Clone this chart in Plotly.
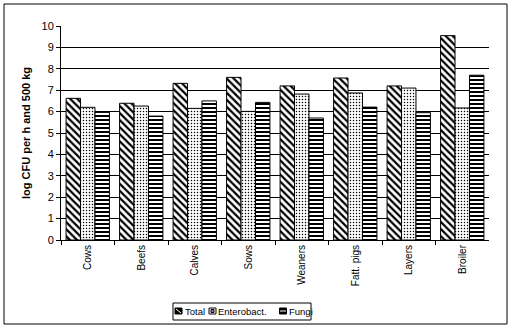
import plotly.graph_objects as go

categories = ["Cows", "Beefs", "Calves", "Sows", "Weaners", "Fatt. pigs", "Layers", "Broiler"]
total = [6.62, 6.39, 7.32, 7.6, 7.2, 7.57, 7.2, 9.55]
enterobact = [6.2, 6.26, 6.15, 6.01, 6.82, 6.87, 7.1, 6.17]
fungi = [5.97, 5.79, 6.5, 6.43, 5.7, 6.21, 5.95, 7.7]
yticks = list(range(0, 11))
series_names = ["Total", "Enterobact.", "Fungi"]

FONT = "Arial, Liberation Sans, sans-serif"
W, H = 514, 331


def px(x):
    return x / W


def py(y):
    return 1 - y / H


fig = go.Figure()
patterns = [
    dict(shape="\\", size=5, solidity=0.45),
    dict(shape=".", size=3, solidity=0.2),
    dict(shape="-", size=4, solidity=0.5),
]
for name, vals, pat in zip(series_names, [total, enterobact, fungi], patterns):
    fig.add_trace(go.Bar(
        x=categories, y=vals, name=name, showlegend=False,
        marker=dict(color="white", line=dict(color="black", width=1),
                    pattern=dict(fgcolor="black", bgcolor="white", fillmode="replace", **pat)),
    ))

shapes = [
    # outer frame
    dict(type="rect", xref="paper", yref="paper", x0=px(4), x1=px(507), y0=py(324), y1=py(4),
         line=dict(color="black", width=1), fillcolor="rgba(0,0,0,0)", layer="below"),
    # legend box
    dict(type="rect", xref="paper", yref="paper", x0=px(173), x1=px(311), y0=py(320), y1=py(303),
         line=dict(color="black", width=1), fillcolor="white"),
    # Total key
    dict(type="rect", xref="paper", yref="paper", x0=px(175), x1=px(182), y0=py(314), y1=py(308),
         line=dict(color="black", width=1), fillcolor="black"),
    dict(type="line", xref="paper", yref="paper", x0=px(176), x1=px(181), y0=py(309), y1=py(313),
         line=dict(color="white", width=1)),
    # Enterobact key
    dict(type="rect", xref="paper", yref="paper", x0=px(209), x1=px(216), y0=py(314), y1=py(308),
         line=dict(color="black", width=1), fillcolor="white"),
    dict(type="rect", xref="paper", yref="paper", x0=px(211), x1=px(214), y0=py(312.5), y1=py(309.5),
         line=dict(color="black", width=1), fillcolor="#888"),
    # Fungi key
    dict(type="rect", xref="paper", yref="paper", x0=px(279.5), x1=px(286.5), y0=py(314), y1=py(308),
         line=dict(color="black", width=1), fillcolor="black"),
    dict(type="line", xref="paper", yref="paper", x0=px(280), x1=px(286), y0=py(311), y1=py(311),
         line=dict(color="white", width=1)),
]

annotations = []
for name, xl in zip(series_names, [183.5, 217, 288]):
    annotations.append(dict(text=name, xref="paper", yref="paper", x=px(xl), y=py(311.5),
                            xanchor="left", yanchor="middle", showarrow=False, borderpad=0,
                            font=dict(size=9.5, family=FONT, color="black")))

fig.update_layout(
    width=W, height=H,
    margin=dict(l=0, r=0, t=0, b=0),
    paper_bgcolor="white", plot_bgcolor="white",
    font=dict(family=FONT, size=10, color="black"),
    barmode="group", bargap=0.19, bargroupgap=0,
    showlegend=False,
    xaxis=dict(domain=[px(61), px(489)], showline=True, linecolor="black", linewidth=1,
               ticks="outside", tickson="boundaries", ticklen=4, tickcolor="black", tickangle=-90,
               tickfont=dict(size=10), showgrid=False, automargin=False),
    yaxis=dict(domain=[py(240), py(26)], range=[0, 10], tickvals=yticks, showline=True,
               linecolor="black", linewidth=1, ticks="outside", ticklen=4, tickcolor="black",
               showgrid=True, gridcolor="black", gridwidth=1, tickfont=dict(size=11),
               zeroline=False, automargin=False,
               title=dict(text="<b>log CFU per h and 500 kg</b>", font=dict(size=11), standoff=8)),
    shapes=shapes,
    annotations=annotations,
)

fig.write_html("out.html")
